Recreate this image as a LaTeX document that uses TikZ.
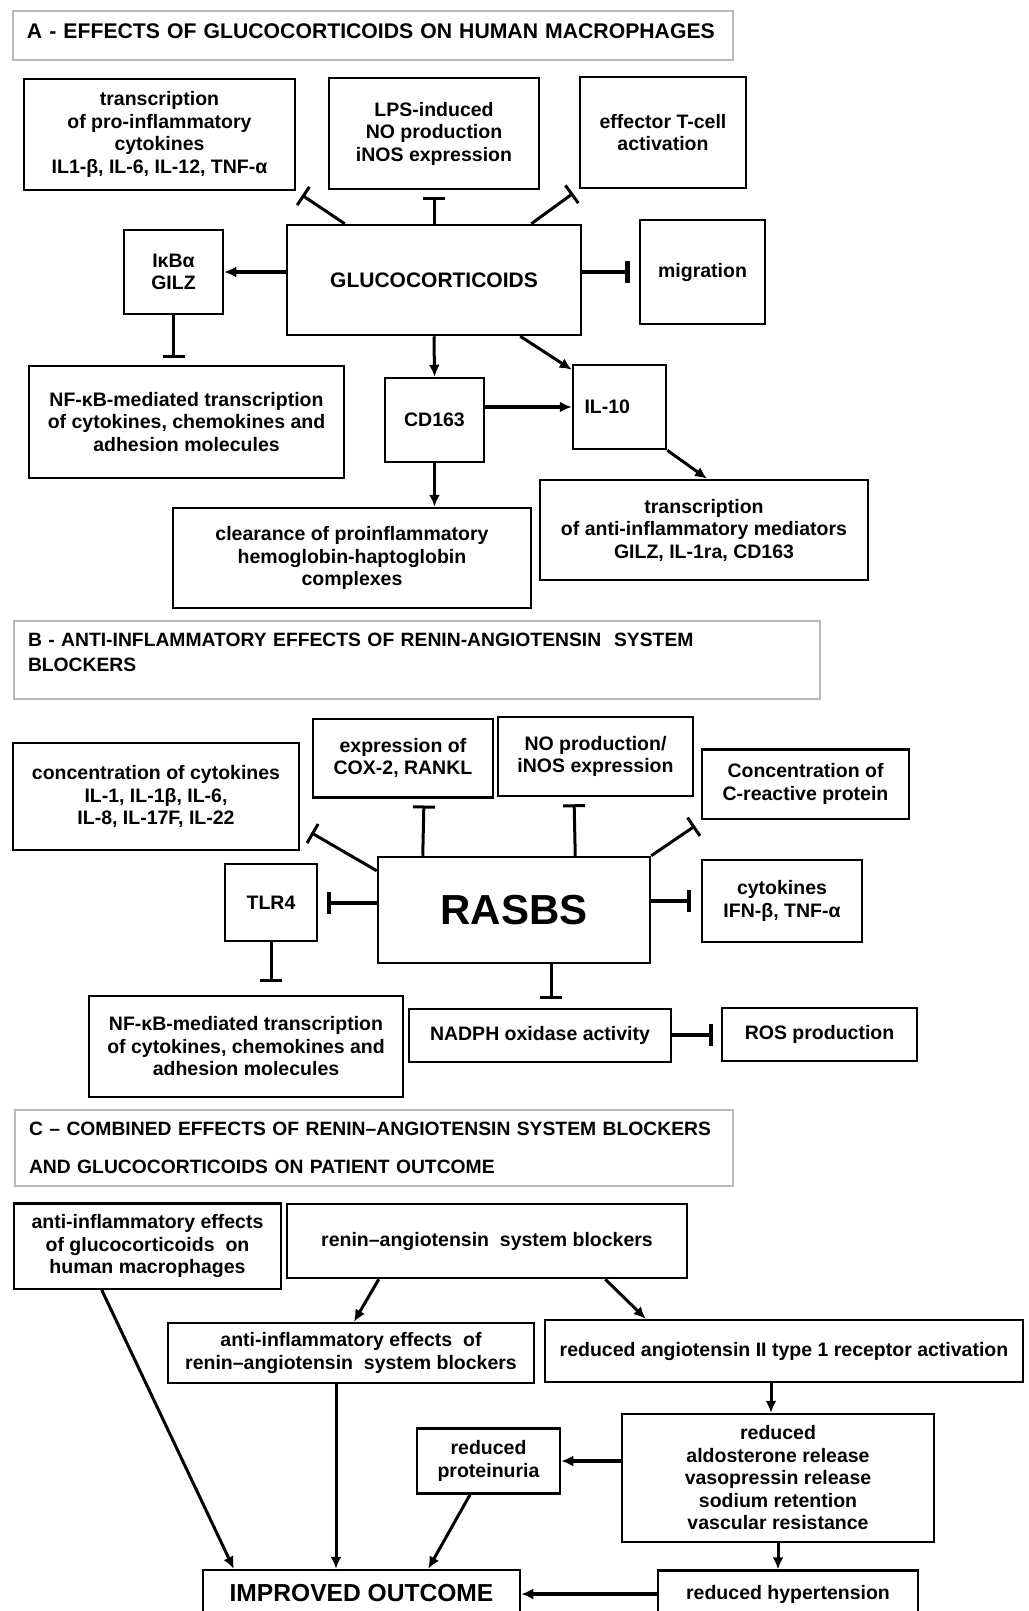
\documentclass[tikz,border=0pt]{standalone}
\usepackage{fontspec}
\setmainfont{Liberation Sans}
\usetikzlibrary{arrows.meta}

\begin{document}
\begin{tikzpicture}[x=1pt, y=-1pt,
	boxnode/.style={draw, line width=2.5pt, align=center, inner sep=2pt, font=\bfseries\fontsize{19.5}{22.5}\selectfont},
	headnode/.style={draw=gray!55, line width=2.5pt, align=left, inner xsep=14pt, inner ysep=2pt, font=\bfseries\fontsize{19.3}{22.5}\selectfont},
	activ/.style={line width=3pt, -{Latex[length=12pt, width=11pt]}},
	inhib/.style={line width=3pt, -{Bar[width=22pt]}, shorten >=7pt}]
		\useasboundingbox (0,0) rectangle (1028,1611);
		\clip (0,0) rectangle (1028,1611);
		\node[headnode, minimum width=720pt, minimum height=49pt, text width=692pt, text depth=8pt, font=\bfseries\fontsize{21.2}{25}\selectfont] (hdrA) at (373,35.5) {\mbox{A - EFFECTS OF GLUCOCORTICOIDS ON HUMAN MACROPHAGES}};
		\node[boxnode, minimum width=271pt, minimum height=111pt] (tpro) at (159.5,134.5) {transcription\\of pro-inflammatory\\cytokines\\IL1-β, IL-6, IL-12, TNF-α};
		\node[boxnode, minimum width=210pt, minimum height=111pt] (lps) at (434,133.5) {LPS-induced\\NO production\\iNOS expression};
		\node[boxnode, minimum width=166pt, minimum height=111pt] (tcell) at (663,132.5) {effector T-cell\\activation};
		\node[boxnode, minimum width=294pt, minimum height=110pt, font=\bfseries\fontsize{21}{25}\selectfont] (gc) at (434,280) {GLUCOCORTICOIDS};
		\node[boxnode, minimum width=99pt, minimum height=84pt] (ikba) at (173.5,272) {IκBα\\GILZ};
		\node[boxnode, minimum width=125pt, minimum height=104pt] (migr) at (702.5,272) {migration};
		\node[boxnode, minimum width=315pt, minimum height=112pt] (nfkbA) at (186.5,422) {NF-κB-mediated transcription\\of cytokines, chemokines and\\adhesion molecules};
		\node[boxnode, minimum width=99pt, minimum height=84pt] (cd163) at (434.5,420) {CD163};
		\node[boxnode, minimum width=93pt, minimum height=84pt, text width=70pt, align=left] (il10) at (619.5,407) {IL-10};
		\node[boxnode, minimum width=328pt, minimum height=100pt] (tanti) at (704,530) {transcription\\of anti-inflammatory mediators\\GILZ, IL-1ra, CD163};
		\node[boxnode, minimum width=358pt, minimum height=100pt] (clear) at (352,558) {clearance of proinflammatory\\hemoglobin-haptoglobin\\complexes};
		\node[headnode, minimum width=806pt, minimum height=78pt, text width=778pt, text depth=40pt] (hdrB) at (417,660) {B - ANTI-INFLAMMATORY EFFECTS OF RENIN-ANGIOTENSIN\ \ SYSTEM\\[2.5pt]BLOCKERS};
		\node[boxnode, minimum width=286pt, minimum height=107pt] (conc) at (156,796.5) {concentration of cytokines\\IL-1, IL-1β, IL-6,\\IL-8, IL-17F, IL-22};
		\node[boxnode, minimum width=180pt, minimum height=78.5pt] (cox) at (403,758) {expression of\\COX-2, RANKL};
		\node[boxnode, minimum width=195pt, minimum height=79pt] (nop) at (595.5,756.5) {NO production/\\iNOS expression};
		\node[boxnode, minimum width=207pt, minimum height=69.5pt] (crp) at (805.5,784) {Concentration of\\C-reactive protein};
		\node[boxnode, minimum width=272pt, minimum height=106pt, font=\bfseries\fontsize{42}{48}\selectfont] (ras) at (514,910) {RASBS};
		\node[boxnode, minimum width=92pt, minimum height=77pt] (tlr4) at (271,902.5) {TLR4};
		\node[boxnode, minimum width=160pt, minimum height=82pt] (ifn) at (782,901) {cytokines\\IFN-β, TNF-α};
		\node[boxnode, minimum width=314pt, minimum height=101pt] (nfkbB) at (246,1046.5) {NF-κB-mediated transcription\\of cytokines, chemokines and\\adhesion molecules};
		\node[boxnode, minimum width=262pt, minimum height=53pt] (nadph) at (540,1035.5) {NADPH oxidase activity};
		\node[boxnode, minimum width=195pt, minimum height=53pt] (ros) at (819.5,1034.5) {ROS production};
		\node[headnode, minimum width=716pt, minimum height=76pt, text width=690pt] (hdrC) at (374,1148) {C – COMBINED EFFECTS OF RENIN–ANGIOTENSIN SYSTEM BLOCKERS\\[15pt]AND GLUCOCORTICOIDS ON PATIENT OUTCOME};
		\node[boxnode, minimum width=267pt, minimum height=85.5pt] (antigc) at (147.5,1246) {anti-inflammatory effects\\of glucocorticoids\ \ on\\human macrophages};
		\node[boxnode, minimum width=400pt, minimum height=74pt] (rasb) at (487,1241) {renin–angiotensin\ \ system blockers};
		\node[boxnode, minimum width=366pt, minimum height=60pt] (antiras) at (351,1353) {anti-inflammatory effects\ \ of\\renin–angiotensin\ \ system blockers};
		\node[boxnode, minimum width=478pt, minimum height=62pt] (at1) at (784,1351) {reduced angiotensin II type 1 receptor activation};
		\node[boxnode, minimum width=312pt, minimum height=128pt] (aldo) at (778,1478) {reduced\\aldosterone release\\vasopressin release\\sodium retention\\vascular resistance};
		\node[boxnode, minimum width=143pt, minimum height=65pt] (prot) at (488.5,1461) {reduced\\proteinuria};
		\node[boxnode, minimum width=317pt, minimum height=46pt, font=\bfseries\fontsize{24.6}{28}\selectfont] (outcome) at (361.5,1593) {IMPROVED OUTCOME};
		\node[boxnode, minimum width=260pt, minimum height=47pt] (hyp) at (788,1594) {reduced hypertension};
		\draw[inhib] ([xshift=59pt]gc.north west) -- (tpro.south east);
		\draw[inhib] (gc.north) -- (lps.south);
		\draw[inhib] ([xshift=-51pt]gc.north east) -- (tcell.south west);
		\draw[activ, line width=4.5pt] (gc.west |- ikba.east) -- (ikba.east);
		\draw[inhib, line width=4.5pt, shorten >=9pt] (gc.east |- migr.west) -- (migr.west);
		\draw[inhib] (ikba.south) -- (ikba.south |- nfkbA.north);
		\draw[activ] (gc.south) -- (cd163.north);
		\draw[activ] ([xshift=-62pt]gc.south east) -- ([yshift=-6pt]il10.north west);
		\draw[activ, line width=4.5pt] (cd163.east |- il10.west) -- (il10.west);
		\draw[activ] (il10.south east) -- ([xshift=3pt]tanti.north);
		\draw[activ] (cd163.south) -- (cd163.south |- clear.north);
		\draw[inhib] ([yshift=-15pt]ras.north west) -- ([xshift=5pt, yshift=22pt]conc.south east);
		\draw[inhib] ([xshift=46pt]ras.north west) -- ([xshift=21pt]cox.south);
		\draw[inhib] ([xshift=-76pt]ras.north east) -- ([xshift=-21.5pt]nop.south);
		\draw[inhib] (ras.north east) -- ([yshift=-2pt]crp.south west);
		\draw[inhib, line width=4pt, shorten >=9pt] (ras.west |- tlr4.east) -- (tlr4.east);
		\draw[inhib, line width=4pt, shorten >=10pt] (ras.east |- ifn.west) -- (ifn.west);
		\draw[inhib, shorten >=13pt] (tlr4.south) -- (tlr4.south |- nfkbB.north);
		\draw[inhib, shorten >=9pt] ([xshift=37pt]ras.south) -- ([xshift=11pt]nadph.north);
		\draw[inhib, line width=4pt, shorten >=8pt] (nadph.east |- ros.west) -- (ros.west);
		\draw[activ] ([xshift=93pt]rasb.south west) -- ([xshift=3pt]antiras.north);
		\draw[activ] ([xshift=-83pt]rasb.south east) -- ([xshift=102pt]at1.north west);
		\draw[activ] ([xshift=-13pt]at1.south) -- ([xshift=-7pt]aldo.north);
		\draw[activ, line width=4.5pt] (aldo.west |- prot.east) -- (prot.east);
		\draw[activ] (aldo.south) -- (aldo.south |- hyp.north);
		\draw[activ, line width=4.5pt] (hyp.west) -- (hyp.west -| outcome.east);
		\draw[activ] ([xshift=89pt]antigc.south west) -- ([xshift=32pt]outcome.north west);
		\draw[activ] ([xshift=-15pt]antiras.south) -- ([xshift=-25.5pt]outcome.north);
		\draw[activ] ([xshift=-18.5pt]prot.south) -- ([xshift=-93pt]outcome.north east);
	\end{tikzpicture}
\end{document}
